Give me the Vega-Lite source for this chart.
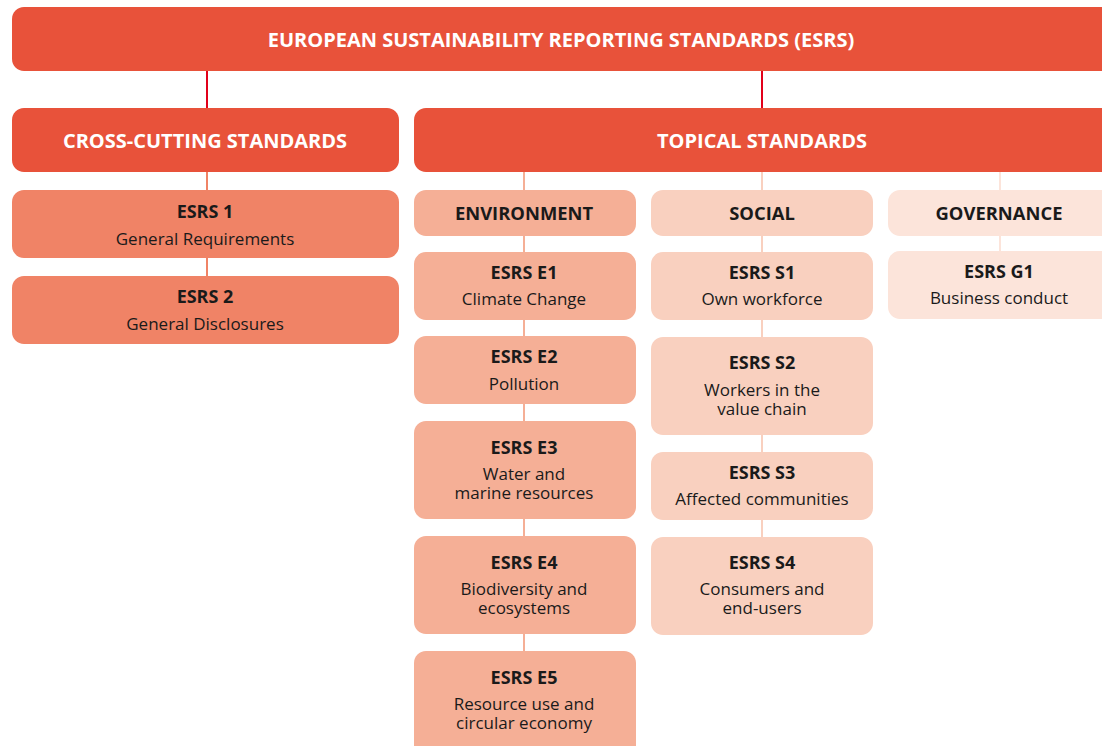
{
  "$schema": "https://vega.github.io/schema/vega-lite/v6.json",
  "autosize": {"type": "fit", "contains": "padding"},
  "width": 1102,
  "height": 746,
  "padding": 0,
  "background": "white",
  "config": {"view": {"stroke": null}},
  "datasets": {
    "boxes": [
      {"id": "ESRS", "x": 12, "x2": 1120, "y": 7, "y2": 71, "level": "main"},
      {"id": "Cross", "x": 12, "x2": 399, "y": 108, "y2": 172, "level": "main"},
      {"id": "Topical", "x": 414, "x2": 1120, "y": 108, "y2": 172, "level": "main"},
      {"id": "ESRS 1", "x": 12, "x2": 399, "y": 190, "y2": 258, "level": "cross"},
      {"id": "ESRS 2", "x": 12, "x2": 399, "y": 276, "y2": 344, "level": "cross"},
      {"id": "Environment", "x": 414, "x2": 636, "y": 190, "y2": 236, "level": "env"},
      {"id": "E1", "x": 414, "x2": 636, "y": 252, "y2": 320, "level": "env"},
      {"id": "E2", "x": 414, "x2": 636, "y": 336, "y2": 404, "level": "env"},
      {"id": "E3", "x": 414, "x2": 636, "y": 421, "y2": 519, "level": "env"},
      {"id": "E4", "x": 414, "x2": 636, "y": 536, "y2": 634, "level": "env"},
      {"id": "E5", "x": 414, "x2": 636, "y": 651, "y2": 760, "level": "env"},
      {"id": "Social", "x": 651, "x2": 873, "y": 190, "y2": 236, "level": "soc"},
      {"id": "S1", "x": 651, "x2": 873, "y": 252, "y2": 320, "level": "soc"},
      {"id": "S2", "x": 651, "x2": 873, "y": 337, "y2": 435, "level": "soc"},
      {"id": "S3", "x": 651, "x2": 873, "y": 452, "y2": 520, "level": "soc"},
      {"id": "S4", "x": 651, "x2": 873, "y": 537, "y2": 635, "level": "soc"},
      {"id": "Governance", "x": 888, "x2": 1120, "y": 190, "y2": 236, "level": "gov"},
      {"id": "G1", "x": 888, "x2": 1120, "y": 251, "y2": 319, "level": "gov"}
    ],
    "links": [
      {"x": 207, "y": 71, "y2": 108, "level": "top"},
      {"x": 762, "y": 71, "y2": 108, "level": "top"},
      {"x": 207, "y": 172, "y2": 190, "level": "cross"},
      {"x": 207, "y": 258, "y2": 276, "level": "cross"},
      {"x": 524, "y": 172, "y2": 190, "level": "env"},
      {"x": 524, "y": 236, "y2": 252, "level": "env"},
      {"x": 524, "y": 320, "y2": 336, "level": "env"},
      {"x": 524, "y": 404, "y2": 421, "level": "env"},
      {"x": 524, "y": 519, "y2": 536, "level": "env"},
      {"x": 524, "y": 634, "y2": 651, "level": "env"},
      {"x": 762, "y": 172, "y2": 190, "level": "soc"},
      {"x": 762, "y": 236, "y2": 252, "level": "soc"},
      {"x": 762, "y": 320, "y2": 337, "level": "soc"},
      {"x": 762, "y": 435, "y2": 452, "level": "soc"},
      {"x": 762, "y": 520, "y2": 537, "level": "soc"},
      {"x": 1000, "y": 172, "y2": 190, "level": "gov"},
      {"x": 1000, "y": 236, "y2": 251, "level": "gov"}
    ],
    "labels": [
      {"x": 561, "y": 40.5, "text": "EUROPEAN SUSTAINABILITY REPORTING STANDARDS (ESRS)", "kind": "white"},
      {"x": 205, "y": 141.5, "text": "CROSS-CUTTING STANDARDS", "kind": "white"},
      {"x": 762, "y": 141.5, "text": "TOPICAL STANDARDS", "kind": "white"},
      {"x": 524, "y": 214, "text": "ENVIRONMENT", "kind": "pillar"},
      {"x": 762, "y": 214, "text": "SOCIAL", "kind": "pillar"},
      {"x": 999, "y": 214, "text": "GOVERNANCE", "kind": "pillar"},
      {"x": 205, "y": 213, "text": "ESRS 1", "kind": "code"},
      {"x": 205, "y": 240, "text": "General Requirements", "kind": "desc"},
      {"x": 205, "y": 298, "text": "ESRS 2", "kind": "code"},
      {"x": 205, "y": 325, "text": "General Disclosures", "kind": "desc"},
      {"x": 524, "y": 274, "text": "ESRS E1", "kind": "code"},
      {"x": 524, "y": 300, "text": "Climate Change", "kind": "desc"},
      {"x": 524, "y": 358, "text": "ESRS E2", "kind": "code"},
      {"x": 524, "y": 385, "text": "Pollution", "kind": "desc"},
      {"x": 524, "y": 449, "text": "ESRS E3", "kind": "code"},
      {"x": 524, "y": 475, "text": "Water and\nmarine resources", "kind": "desc"},
      {"x": 524, "y": 564, "text": "ESRS E4", "kind": "code"},
      {"x": 524, "y": 590, "text": "Biodiversity and\necosystems", "kind": "desc"},
      {"x": 524, "y": 679, "text": "ESRS E5", "kind": "code"},
      {"x": 524, "y": 705, "text": "Resource use and\ncircular economy", "kind": "desc"},
      {"x": 762, "y": 274, "text": "ESRS S1", "kind": "code"},
      {"x": 762, "y": 300, "text": "Own workforce", "kind": "desc"},
      {"x": 762, "y": 364, "text": "ESRS S2", "kind": "code"},
      {"x": 762, "y": 391, "text": "Workers in the\nvalue chain", "kind": "desc"},
      {"x": 762, "y": 474, "text": "ESRS S3", "kind": "code"},
      {"x": 762, "y": 500, "text": "Affected communities", "kind": "desc"},
      {"x": 762, "y": 564, "text": "ESRS S4", "kind": "code"},
      {"x": 762, "y": 590, "text": "Consumers and\nend-users", "kind": "desc"},
      {"x": 999, "y": 273, "text": "ESRS G1", "kind": "code"},
      {"x": 999, "y": 299, "text": "Business conduct", "kind": "desc"}
    ]
  },
  "resolve": {"scale": {"color": "independent"}},
  "layer": [
    {
      "data": {"name": "links"},
      "mark": {"type": "rule", "strokeWidth": 2, "clip": true},
      "encoding": {
        "x": {"field": "x", "type": "quantitative", "scale": {"domain": [0, 1102], "nice": false, "zero": false}, "axis": null},
        "y": {"field": "y", "type": "quantitative", "scale": {"domain": [0, 746], "nice": false, "zero": false, "reverse": true}, "axis": null},
        "y2": {"field": "y2"},
        "color": {"field": "level", "type": "nominal", "legend": null,
          "scale": {"domain": ["top", "cross", "env", "soc", "gov"], "range": ["#E2001A", "#F08366", "#F5AF96", "#F9D0BF", "#FCE4DA"]}}
      }
    },
    {
      "data": {"name": "boxes"},
      "mark": {"type": "rect", "cornerRadius": 12, "clip": true},
      "encoding": {
        "x": {"field": "x", "type": "quantitative", "scale": {"domain": [0, 1102], "nice": false, "zero": false}, "axis": null},
        "x2": {"field": "x2"},
        "y": {"field": "y", "type": "quantitative", "scale": {"domain": [0, 746], "nice": false, "zero": false, "reverse": true}, "axis": null},
        "y2": {"field": "y2"},
        "color": {"field": "level", "type": "nominal", "legend": null,
          "scale": {"domain": ["main", "cross", "env", "soc", "gov"], "range": ["#E8523A", "#F08366", "#F5AF96", "#F9D0BF", "#FCE4DA"]}}
      }
    },
    {
      "data": {"name": "labels"},
      "transform": [{"filter": "datum.kind == 'white'"}],
      "mark": {"type": "text", "font": "Open Sans", "fontWeight": "bold", "fontSize": 20, "color": "white", "align": "center", "baseline": "middle"},
      "encoding": {
        "x": {"field": "x", "type": "quantitative", "scale": {"domain": [0, 1102], "nice": false, "zero": false}, "axis": null},
        "y": {"field": "y", "type": "quantitative", "scale": {"domain": [0, 746], "nice": false, "zero": false, "reverse": true}, "axis": null},
        "text": {"field": "text"}
      }
    },
    {
      "data": {"name": "labels"},
      "transform": [{"filter": "datum.kind == 'pillar'"}],
      "mark": {"type": "text", "font": "Open Sans", "fontWeight": "bold", "fontSize": 18.4, "color": "#1a1a1a", "align": "center", "baseline": "middle"},
      "encoding": {
        "x": {"field": "x", "type": "quantitative", "scale": {"domain": [0, 1102], "nice": false, "zero": false}, "axis": null},
        "y": {"field": "y", "type": "quantitative", "scale": {"domain": [0, 746], "nice": false, "zero": false, "reverse": true}, "axis": null},
        "text": {"field": "text"}
      }
    },
    {
      "data": {"name": "labels"},
      "transform": [{"filter": "datum.kind == 'code'"}],
      "mark": {"type": "text", "font": "Open Sans", "fontWeight": "bold", "fontSize": 18, "color": "#1a1a1a", "align": "center", "baseline": "middle"},
      "encoding": {
        "x": {"field": "x", "type": "quantitative", "scale": {"domain": [0, 1102], "nice": false, "zero": false}, "axis": null},
        "y": {"field": "y", "type": "quantitative", "scale": {"domain": [0, 746], "nice": false, "zero": false, "reverse": true}, "axis": null},
        "text": {"field": "text"}
      }
    },
    {
      "data": {"name": "labels"},
      "transform": [{"filter": "datum.kind == 'desc'"}],
      "mark": {"type": "text", "font": "Open Sans", "fontSize": 17, "color": "#1a1a1a", "align": "center", "baseline": "middle", "lineBreak": "\n", "lineHeight": 19},
      "encoding": {
        "x": {"field": "x", "type": "quantitative", "scale": {"domain": [0, 1102], "nice": false, "zero": false}, "axis": null},
        "y": {"field": "y", "type": "quantitative", "scale": {"domain": [0, 746], "nice": false, "zero": false, "reverse": true}, "axis": null},
        "text": {"field": "text"}
      }
    }
  ]
}
